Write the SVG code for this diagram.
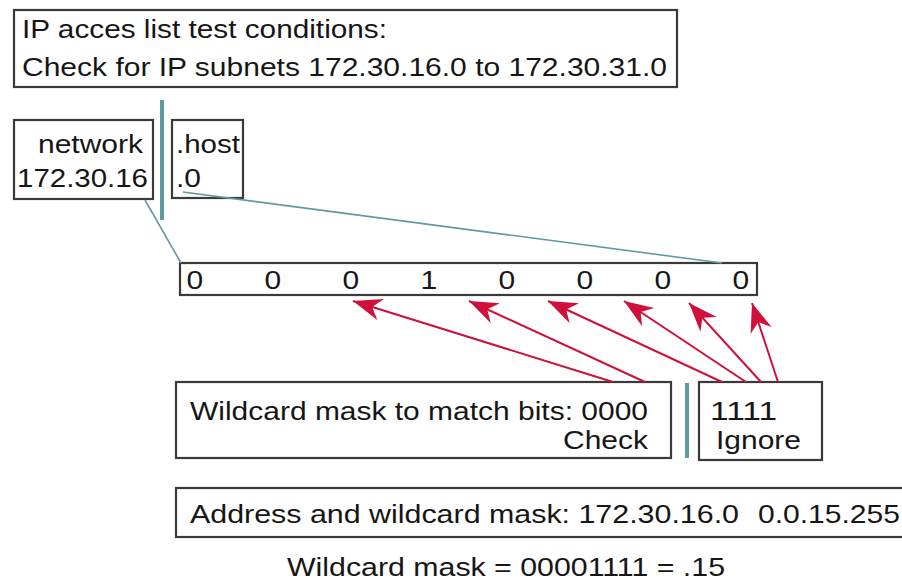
<svg xmlns="http://www.w3.org/2000/svg" width="902" height="584" viewBox="0 0 902 584">
  <style>
    .box { fill: #ffffff; stroke: #3a3a3a; stroke-width: 2.2; }
    .t { font-family: "Liberation Sans", Arial, sans-serif; font-size: 26px; fill: #161616; }
    .bar { stroke: #5f9a9e; stroke-width: 4; }
    .link { stroke: #5f9a9e; stroke-width: 1.6; fill: none; }
    .arrow { stroke: #d0103a; stroke-width: 2; fill: none; marker-end: url(#head); }
  </style>
  <defs>
    <marker id="head" markerUnits="userSpaceOnUse" markerWidth="32" markerHeight="26" refX="29" refY="11" orient="auto" viewBox="0 0 32 26">
      <path d="M29,11 L0,0 L9,11 L0,22 Z" fill="#d0103a"/>
    </marker>
  </defs>

  <rect width="902" height="584" fill="#ffffff"/>

  <!-- test conditions -->
  <g id="conditions">
    <rect class="box" x="14" y="10" width="663" height="77"/>
    <text class="t" x="22" y="38" textLength="365" lengthAdjust="spacingAndGlyphs">IP acces list test conditions:</text>
    <text class="t" x="22" y="76" textLength="645" lengthAdjust="spacingAndGlyphs">Check for IP subnets 172.30.16.0 to 172.30.31.0</text>
  </g>

  <!-- network / host split -->
  <g id="network">
    <rect class="box" x="14" y="120" width="139" height="79"/>
    <text class="t" x="38" y="153" textLength="105" lengthAdjust="spacingAndGlyphs">network</text>
    <text class="t" x="17" y="187" textLength="131" lengthAdjust="spacingAndGlyphs">172.30.16</text>
  </g>
  <g id="host">
    <rect class="box" x="172" y="120" width="71" height="78"/>
    <text class="t" x="176" y="153" textLength="64" lengthAdjust="spacingAndGlyphs">.host</text>
    <text class="t" x="176" y="187" textLength="25" lengthAdjust="spacingAndGlyphs">.0</text>
  </g>

  <!-- third octet bits -->
  <g id="bits">
    <rect class="box" x="180" y="263" width="577" height="32"/>
    <text class="t" x="186.6" y="289" textLength="16.7" lengthAdjust="spacingAndGlyphs">0</text>
    <text class="t" x="264.6" y="289" textLength="16.7" lengthAdjust="spacingAndGlyphs">0</text>
    <text class="t" x="342.6" y="289" textLength="16.7" lengthAdjust="spacingAndGlyphs">0</text>
    <text class="t" x="420.6" y="289" textLength="16.7" lengthAdjust="spacingAndGlyphs">1</text>
    <text class="t" x="498.6" y="289" textLength="16.7" lengthAdjust="spacingAndGlyphs">0</text>
    <text class="t" x="576.6" y="289" textLength="16.7" lengthAdjust="spacingAndGlyphs">0</text>
    <text class="t" x="654.6" y="289" textLength="16.7" lengthAdjust="spacingAndGlyphs">0</text>
    <text class="t" x="732.6" y="289" textLength="16.7" lengthAdjust="spacingAndGlyphs">0</text>
  </g>

  <!-- wildcard mask halves -->
  <g id="check">
    <rect class="box" x="176" y="382" width="495" height="76"/>
    <text class="t" x="190" y="420" textLength="458" lengthAdjust="spacingAndGlyphs">Wildcard mask to match bits: 0000</text>
    <text class="t" x="563" y="449" textLength="85" lengthAdjust="spacingAndGlyphs">Check</text>
  </g>
  <g id="ignore">
    <rect class="box" x="699" y="382" width="123" height="78"/>
    <text class="t" x="710" y="420" textLength="67" lengthAdjust="spacingAndGlyphs">1111</text>
    <text class="t" x="716" y="449" textLength="85" lengthAdjust="spacingAndGlyphs">Ignore</text>
  </g>

  <!-- resulting address / mask pair -->
  <g id="address">
    <rect class="box" x="176" y="488" width="740" height="49"/>
    <text class="t" x="190" y="523" textLength="549" lengthAdjust="spacingAndGlyphs">Address and wildcard mask: 172.30.16.0</text>
    <text class="t" x="758" y="523" textLength="142" lengthAdjust="spacingAndGlyphs">0.0.15.255</text>
  </g>

  <g id="summary">
    <text class="t" x="287" y="576" textLength="438" lengthAdjust="spacingAndGlyphs">Wildcard mask = 00001111 = .15</text>
  </g>

  <g id="connectors">
    <line class="bar" x1="162" y1="100" x2="162" y2="220"/>
    <line class="bar" x1="687" y1="383" x2="687" y2="458"/>
    <line class="link" x1="145" y1="200" x2="181" y2="263"/>
    <line class="link" x1="183" y1="192" x2="722" y2="263"/>
    <line class="arrow" x1="613" y1="382" x2="353" y2="301"/>
    <line class="arrow" x1="645" y1="382" x2="469" y2="301"/>
    <line class="arrow" x1="722" y1="382" x2="548" y2="301"/>
    <line class="arrow" x1="746" y1="382" x2="624" y2="301"/>
    <line class="arrow" x1="761" y1="382" x2="689" y2="303"/>
    <line class="arrow" x1="778" y1="382" x2="752" y2="303"/>
  </g>
</svg>
